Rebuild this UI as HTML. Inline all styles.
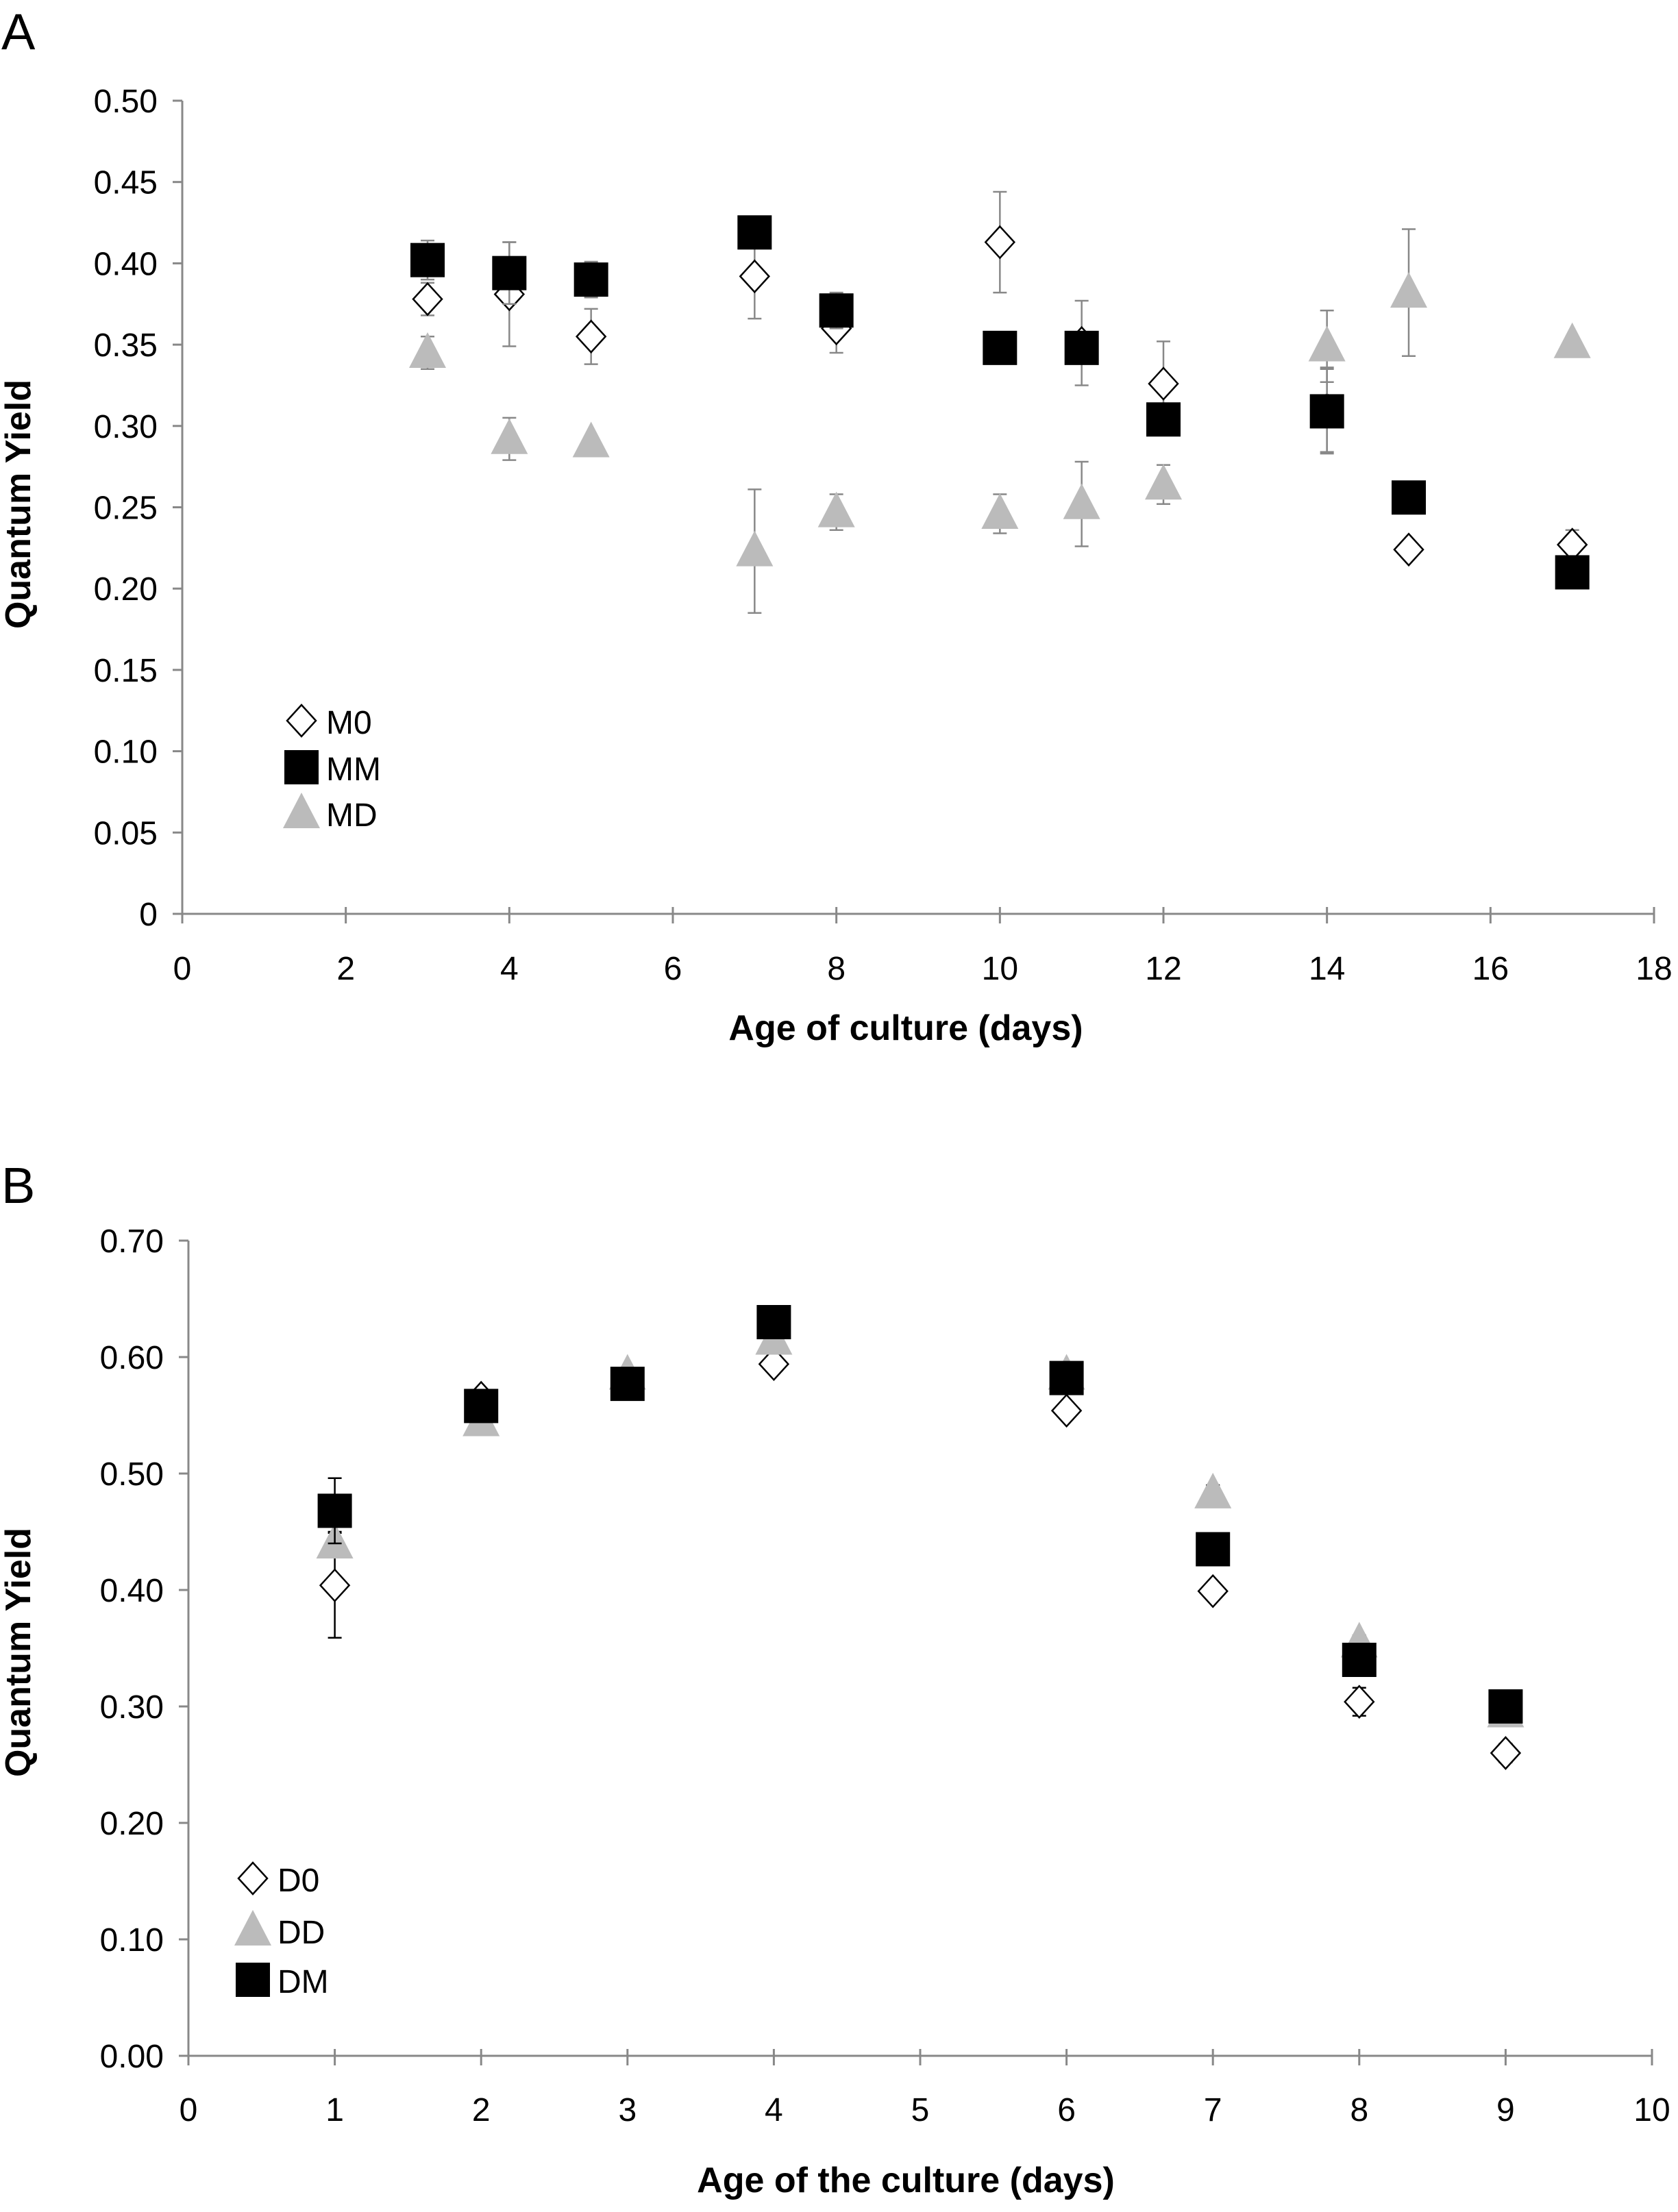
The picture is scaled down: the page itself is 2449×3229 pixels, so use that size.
<!DOCTYPE html>
<html><head><meta charset="utf-8"><style>
html,body{margin:0;padding:0;background:#fff;}
svg{display:block;font-family:"Liberation Sans Narrow","Liberation Sans",sans-serif;}
.t{font-size:48px;fill:#000;}
.ti{font-family:"Liberation Sans",sans-serif;font-weight:bold;font-size:52px;fill:#000;}
</style></head><body>
<svg id="chart" width="2449" height="3229" viewBox="0 0 2449 3229" xmlns="http://www.w3.org/2000/svg">
<text x="2" y="72" font-family="Liberation Sans,sans-serif" font-size="74">A</text>
<text x="2" y="1756" font-family="Liberation Sans,sans-serif" font-size="74">B</text>
<g id="pa"></g>
<g id="pb"></g>
</svg>
<script>
// Panel A data
const daysA = [3,4,5,7,8,10,11,12,14,15,17];
const m0 = [0.378,0.381,0.355,0.392,0.360,0.413,0.351,0.326,0.310,0.224,0.227];
const m0Err = [0.010,0.032,0.017,0.026,0.015,0.031,0.026,0.026,0.026,0,0.009];
const mm = [0.402,0.394,0.390,0.419,0.371,0.348,0.348,0.304,0.309,0.256,0.210];
const mmErr = [0.012,0.019,0.011,0,0.011,0,0,0,0.026,0,0];
const md = [0.345,0.292,0.290,0.223,0.247,0.246,0.252,0.264,0.349,0.382,0.351];
const mdErr = [0.010,0.013,0.003,0.038,0.011,0.012,0.026,0.012,0.022,0.039,0.004];
const yTicksA = ["0","0.05","0.10","0.15","0.20","0.25","0.30","0.35","0.40","0.45","0.50"];
const xTicksA = [0,2,4,6,8,10,12,14,16,18];
// Panel B data
const daysB = [1,2,3,4,6,7,8,9];
const d0 = [0.404,0.565,0.578,0.594,0.554,0.399,0.304,0.260];
const d0Err = [0.045,0,0,0,0,0,0.012,0.008];
const dd = [0.440,0.545,0.585,0.615,0.585,0.483,0.355,0.295];
const ddErr = [0.010,0,0,0,0,0.007,0.006,0];
const dm = [0.468,0.558,0.577,0.630,0.582,0.435,0.340,0.300];
const dmErr = [0.028,0,0,0,0,0,0,0];
const yTicksB = ["0.00","0.10","0.20","0.30","0.40","0.50","0.60","0.70"];
const xTicksB = [0,1,2,3,4,5,6,7,8,9,10];

const NS="http://www.w3.org/2000/svg";
function mk(p,tag,a){const e=document.createElementNS(NS,tag);for(const k in a)e.setAttribute(k,a[k]);p.appendChild(e);return e;}

function marker(g,type,cx,cy){
  let e;
  if(type==='sq'){e=mk(g,'rect',{x:cx-25,y:cy-25,width:50,height:50,fill:'#000'});}
  else if(type==='tri'){e=mk(g,'polygon',{points:`${cx},${cy-30} ${cx+27},${cy+22} ${cx-27},${cy+22}`,fill:'#bbb'});}
  else {e=mk(g,'polygon',{points:`${cx},${cy-23} ${cx+21},${cy} ${cx},${cy+23} ${cx-21},${cy}`,fill:'#fff',stroke:'#000','stroke-width':2.5});}
  return e;
}

function panel(g,o){
  const X=v=>o.x0+(v-o.xmin)/(o.xmax-o.xmin)*(o.x1-o.x0);
  const Y=v=>o.y0-(v/o.ymax)*(o.y0-o.y1);
  let e;
  e=mk(g,'line',{x1:o.x0,y1:o.y0,x2:o.x0,y2:o.y1,stroke:'#888','stroke-width':3});
  
  
  e=mk(g,'line',{x1:o.x0,y1:o.y0,x2:o.x1,y2:o.y0,stroke:'#888','stroke-width':3});
  
  
  o.yt.forEach((lab,i)=>{
    const v=i*o.ystep,y=Y(v);
    mk(g,'line',{x1:o.x0-14,y1:y,x2:o.x0,y2:y,stroke:'#888','stroke-width':3});
    e=mk(g,'text',{x:o.x0-36,y:y+17,'text-anchor':'end',class:'t'});e.textContent=lab;
    
    
  });
  o.xt.forEach(v=>{
    const x=X(v);
    mk(g,'line',{x1:x,y1:o.y0-10,x2:x,y2:o.y0+14,stroke:'#888','stroke-width':3});
    e=mk(g,'text',{x:x,y:o.xly,'text-anchor':'middle',class:'t'});e.textContent=v;
    
    
  });
  e=mk(g,'text',{x:o.xtx,y:o.xty,'text-anchor':'middle',class:'ti'});e.textContent=o.xtitle;
  
  
  e=mk(g,'text',{x:0,y:0,'text-anchor':'middle',class:'ti',transform:`translate(${o.ytx},${o.yty}) rotate(-90)`});e.textContent='Quantum Yield';
  
  
  o.series.forEach(s=>{
    const sg=mk(g,'g',{});
    
    
    o.days.forEach((d,i)=>{
      const x=X(d),er=s.err[i];
      if(er>0){
        const c=o.errColor;
        mk(sg,'line',{x1:x,y1:Y(s.v[i]-er),x2:x,y2:Y(s.v[i]+er),stroke:c,'stroke-width':2.5});
        mk(sg,'line',{x1:x-10,y1:Y(s.v[i]+er),x2:x+10,y2:Y(s.v[i]+er),stroke:c,'stroke-width':2.5});
        mk(sg,'line',{x1:x-10,y1:Y(s.v[i]-er),x2:x+10,y2:Y(s.v[i]-er),stroke:c,'stroke-width':2.5});
      }
    });
    o.days.forEach((d,i)=>{
      const m=marker(sg,s.type,X(d),Y(s.v[i]));
      
      
    });
  });
  o.legend.forEach((l,i)=>{
    const y=o.ly[i];
    const m=marker(g,l.type,o.lx,y);
    
    
    e=mk(g,'text',{x:o.lx+36,y:y+19,class:'t','font-size':52});e.textContent=l.name;
    
    
  });
}

const sA=[{name:'M0',type:'dia',v:m0,err:m0Err},{name:'MD',type:'tri',v:md,err:mdErr},{name:'MM',type:'sq',v:mm,err:mmErr}];
panel(document.getElementById('pa'),{x0:266,x1:2414,y0:1334,y1:147,xmin:0,xmax:18,ymax:0.5,ystep:0.05,
  yt:yTicksA,xt:xTicksA,xly:1430,xtx:1322,xty:1518,ytx:44,yty:736,xtitle:'Age of culture (days)',
  days:daysA,series:sA,errColor:'#888',lx:440,ly:[1052,1120,1187],
  legend:[{name:'M0',type:'dia'},{name:'MM',type:'sq'},{name:'MD',type:'tri'}]});
const sB=[{name:'D0',type:'dia',v:d0,err:d0Err},{name:'DD',type:'tri',v:dd,err:ddErr},{name:'DM',type:'sq',v:dm,err:dmErr}];
panel(document.getElementById('pb'),{x0:275,x1:2411,y0:3001,y1:1811,xmin:0,xmax:10,ymax:0.7,ystep:0.1,
  yt:yTicksB,xt:xTicksB,xly:3096,xtx:1322,xty:3200,ytx:44,yty:2412,xtitle:'Age of the culture (days)',
  days:daysB,series:sB,errColor:'#000',lx:369,ly:[2742,2818,2890],
  legend:[{name:'D0',type:'dia'},{name:'DD',type:'tri'},{name:'DM',type:'sq'}]});
</script>
</body></html>
